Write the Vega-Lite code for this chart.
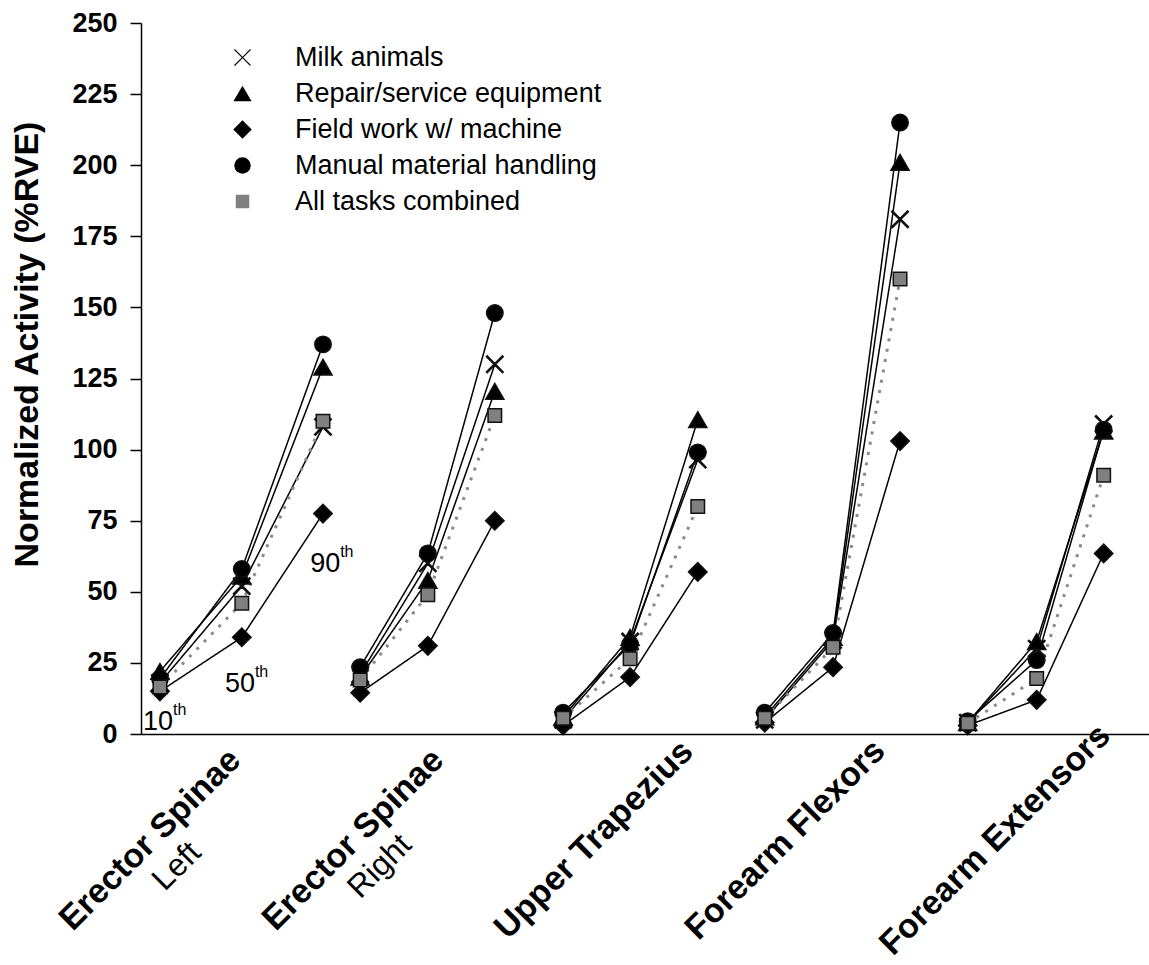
{
  "$schema": "https://vega.github.io/schema/vega-lite/v6.json",
  "width": 1008,
  "height": 711,
  "autosize": {"type": "none"},
  "padding": {"left": 141, "top": 23, "right": 0, "bottom": 231},
  "background": "white",
  "config": {"view": {"stroke": null}, "font": "Liberation Sans"},
  "datasets": {
    "points": [
      {"muscle": "ES-L", "task": "Milk animals", "pos": 0.28, "value": 18},
      {"muscle": "ES-L", "task": "Milk animals", "pos": 1.49, "value": 52},
      {"muscle": "ES-L", "task": "Milk animals", "pos": 2.69, "value": 108},
      {"muscle": "ES-R", "task": "Milk animals", "pos": 3.24, "value": 21},
      {"muscle": "ES-R", "task": "Milk animals", "pos": 4.24, "value": 60},
      {"muscle": "ES-R", "task": "Milk animals", "pos": 5.23, "value": 130},
      {"muscle": "UT", "task": "Milk animals", "pos": 6.24, "value": 5},
      {"muscle": "UT", "task": "Milk animals", "pos": 7.23, "value": 32.5},
      {"muscle": "UT", "task": "Milk animals", "pos": 8.23, "value": 96.5},
      {"muscle": "FF", "task": "Milk animals", "pos": 9.22, "value": 5},
      {"muscle": "FF", "task": "Milk animals", "pos": 10.23, "value": 33},
      {"muscle": "FF", "task": "Milk animals", "pos": 11.22, "value": 181},
      {"muscle": "FE", "task": "Milk animals", "pos": 12.22, "value": 4},
      {"muscle": "FE", "task": "Milk animals", "pos": 13.24, "value": 30},
      {"muscle": "FE", "task": "Milk animals", "pos": 14.23, "value": 109},
      {"muscle": "ES-L", "task": "Repair/service equipment", "pos": 0.28, "value": 22},
      {"muscle": "ES-L", "task": "Repair/service equipment", "pos": 1.49, "value": 55.5},
      {"muscle": "ES-L", "task": "Repair/service equipment", "pos": 2.69, "value": 129},
      {"muscle": "ES-R", "task": "Repair/service equipment", "pos": 3.24, "value": 20},
      {"muscle": "ES-R", "task": "Repair/service equipment", "pos": 4.24, "value": 54},
      {"muscle": "ES-R", "task": "Repair/service equipment", "pos": 5.23, "value": 120.5},
      {"muscle": "UT", "task": "Repair/service equipment", "pos": 6.24, "value": 6},
      {"muscle": "UT", "task": "Repair/service equipment", "pos": 7.23, "value": 34},
      {"muscle": "UT", "task": "Repair/service equipment", "pos": 8.23, "value": 110.5},
      {"muscle": "FF", "task": "Repair/service equipment", "pos": 9.22, "value": 6},
      {"muscle": "FF", "task": "Repair/service equipment", "pos": 10.23, "value": 34},
      {"muscle": "FF", "task": "Repair/service equipment", "pos": 11.22, "value": 201},
      {"muscle": "FE", "task": "Repair/service equipment", "pos": 12.22, "value": 4},
      {"muscle": "FE", "task": "Repair/service equipment", "pos": 13.24, "value": 32.5},
      {"muscle": "FE", "task": "Repair/service equipment", "pos": 14.23, "value": 106.5},
      {"muscle": "ES-L", "task": "Field work w/ machine", "pos": 0.28, "value": 15},
      {"muscle": "ES-L", "task": "Field work w/ machine", "pos": 1.49, "value": 34},
      {"muscle": "ES-L", "task": "Field work w/ machine", "pos": 2.69, "value": 77.5},
      {"muscle": "ES-R", "task": "Field work w/ machine", "pos": 3.24, "value": 14.5},
      {"muscle": "ES-R", "task": "Field work w/ machine", "pos": 4.24, "value": 31},
      {"muscle": "ES-R", "task": "Field work w/ machine", "pos": 5.23, "value": 75},
      {"muscle": "UT", "task": "Field work w/ machine", "pos": 6.24, "value": 3},
      {"muscle": "UT", "task": "Field work w/ machine", "pos": 7.23, "value": 20},
      {"muscle": "UT", "task": "Field work w/ machine", "pos": 8.23, "value": 57},
      {"muscle": "FF", "task": "Field work w/ machine", "pos": 9.22, "value": 4},
      {"muscle": "FF", "task": "Field work w/ machine", "pos": 10.23, "value": 23.5},
      {"muscle": "FF", "task": "Field work w/ machine", "pos": 11.22, "value": 103},
      {"muscle": "FE", "task": "Field work w/ machine", "pos": 12.22, "value": 3},
      {"muscle": "FE", "task": "Field work w/ machine", "pos": 13.24, "value": 12},
      {"muscle": "FE", "task": "Field work w/ machine", "pos": 14.23, "value": 63.5},
      {"muscle": "ES-L", "task": "Manual material handling", "pos": 0.28, "value": 19.5},
      {"muscle": "ES-L", "task": "Manual material handling", "pos": 1.49, "value": 58},
      {"muscle": "ES-L", "task": "Manual material handling", "pos": 2.69, "value": 137},
      {"muscle": "ES-R", "task": "Manual material handling", "pos": 3.24, "value": 23.5},
      {"muscle": "ES-R", "task": "Manual material handling", "pos": 4.24, "value": 63.5},
      {"muscle": "ES-R", "task": "Manual material handling", "pos": 5.23, "value": 148},
      {"muscle": "UT", "task": "Manual material handling", "pos": 6.24, "value": 7.5},
      {"muscle": "UT", "task": "Manual material handling", "pos": 7.23, "value": 31.5},
      {"muscle": "UT", "task": "Manual material handling", "pos": 8.23, "value": 99},
      {"muscle": "FF", "task": "Manual material handling", "pos": 9.22, "value": 7.5},
      {"muscle": "FF", "task": "Manual material handling", "pos": 10.23, "value": 35.5},
      {"muscle": "FF", "task": "Manual material handling", "pos": 11.22, "value": 215},
      {"muscle": "FE", "task": "Manual material handling", "pos": 12.22, "value": 4.5},
      {"muscle": "FE", "task": "Manual material handling", "pos": 13.24, "value": 26},
      {"muscle": "FE", "task": "Manual material handling", "pos": 14.23, "value": 107},
      {"muscle": "ES-L", "task": "All tasks combined", "pos": 0.28, "value": 16.5},
      {"muscle": "ES-L", "task": "All tasks combined", "pos": 1.49, "value": 46},
      {"muscle": "ES-L", "task": "All tasks combined", "pos": 2.69, "value": 110},
      {"muscle": "ES-R", "task": "All tasks combined", "pos": 3.24, "value": 19},
      {"muscle": "ES-R", "task": "All tasks combined", "pos": 4.24, "value": 49},
      {"muscle": "ES-R", "task": "All tasks combined", "pos": 5.23, "value": 112},
      {"muscle": "UT", "task": "All tasks combined", "pos": 6.24, "value": 5.5},
      {"muscle": "UT", "task": "All tasks combined", "pos": 7.23, "value": 26.5},
      {"muscle": "UT", "task": "All tasks combined", "pos": 8.23, "value": 80},
      {"muscle": "FF", "task": "All tasks combined", "pos": 9.22, "value": 5.5},
      {"muscle": "FF", "task": "All tasks combined", "pos": 10.23, "value": 30.5},
      {"muscle": "FF", "task": "All tasks combined", "pos": 11.22, "value": 160},
      {"muscle": "FE", "task": "All tasks combined", "pos": 12.22, "value": 3.8},
      {"muscle": "FE", "task": "All tasks combined", "pos": 13.24, "value": 19.5},
      {"muscle": "FE", "task": "All tasks combined", "pos": 14.23, "value": 91}
    ],
    "labels": [
      {"name": "Erector Spinae", "sub": "Left", "lpos": 0.14},
      {"name": "Erector Spinae", "sub": "Right", "lpos": 3.14},
      {"name": "Upper Trapezius", "sub": "", "lpos": 6.70},
      {"name": "Forearm Flexors", "sub": "", "lpos": 9.53},
      {"name": "Forearm Extensors", "sub": "", "lpos": 12.63}
    ],
    "ann": [
      {"num": "10", "pos": 0.03, "value": 1.4},
      {"num": "50", "pos": 1.24, "value": 14.8},
      {"num": "90", "pos": 2.5, "value": 57}
    ]
  },
  "layer": [
    {
      "data": {"name": "points"},
      "mark": {"type": "line", "clip": false},
      "encoding": {
        "x": {
          "field": "pos", "type": "quantitative",
          "scale": {"domain": [0, 14.9], "nice": false, "zero": false},
          "axis": {"domain": true, "domainColor": "black", "domainWidth": 1.5, "ticks": false, "labels": false, "grid": false, "title": null}
        },
        "y": {
          "field": "value", "type": "quantitative",
          "scale": {"domain": [0, 250], "nice": false},
          "axis": {
            "values": [0, 25, 50, 75, 100, 125, 150, 175, 200, 225, 250],
            "grid": false,
            "domainColor": "black", "domainWidth": 1.5,
            "tickColor": "black", "tickWidth": 1.5, "tickSize": 11,
            "labelFont": "Liberation Sans", "labelFontSize": 27, "labelFontWeight": "bold", "labelColor": "black", "labelPadding": 13,
            "title": "Normalized Activity (%RVE)",
            "titleFont": "Liberation Sans", "titleFontSize": 34, "titleFontWeight": "bold", "titleColor": "black",
            "titleX": -114, "titleY": 321, "titleAngle": 270, "titleAlign": "center", "titleBaseline": "middle"
          }
        },
        "detail": [{"field": "muscle"}, {"field": "task"}],
        "stroke": {"condition": {"test": "datum.task === 'All tasks combined'", "value": "#8a8a8a"}, "value": "#000000"},
        "strokeWidth": {"condition": {"test": "datum.task === 'All tasks combined'", "value": 3}, "value": 1.5},
        "strokeDash": {"condition": {"test": "datum.task === 'All tasks combined'", "value": [3, 7.5]}, "value": [1, 0]}
      }
    },
    {
      "data": {"name": "points"},
      "mark": {"type": "point", "filled": true, "stroke": "#111111", "strokeWidth": 1.5, "opacity": 1, "clip": false},
      "encoding": {
        "x": {"field": "pos", "type": "quantitative"},
        "y": {"field": "value", "type": "quantitative"},
        "shape": {
          "field": "task", "type": "nominal",
          "scale": {"domain": ["Milk animals", "Repair/service equipment", "Field work w/ machine", "Manual material handling", "All tasks combined"], "range": ["M0,-0.1L0.95,-1.05L1.05,-0.95L0.1,0L1.05,0.95L0.95,1.05L0,0.1L-0.95,1.05L-1.05,0.95L-0.1,0L-1.05,-0.95L-0.95,-1.05Z", "triangle-up", "diamond", "circle", "square"]},
          "legend": {"orient": "none", "legendX": 88, "legendY": 21, "title": null, "labelFont": "Liberation Sans", "labelFontSize": 27, "labelFontWeight": "normal", "labelColor": "black", "labelLimit": 500, "labelOffset": 39, "rowPadding": 8, "padding": 0, "symbolStrokeColor": "#111111", "symbolStrokeWidth": 1.5}
        },
        "fill": {
          "field": "task", "type": "nominal",
          "scale": {"domain": ["Milk animals", "Repair/service equipment", "Field work w/ machine", "Manual material handling", "All tasks combined"], "range": ["#000000", "#000000", "#000000", "#000000", "#808080"]},
          "legend": {"orient": "none", "legendX": 88, "legendY": 21, "title": null, "labelFont": "Liberation Sans", "labelFontSize": 27, "labelFontWeight": "normal", "labelColor": "black", "labelLimit": 500, "labelOffset": 39, "rowPadding": 8, "padding": 0, "symbolStrokeColor": "#111111", "symbolStrokeWidth": 1.5}
        },
        "size": {
          "field": "task", "type": "nominal",
          "scale": {"type": "ordinal", "domain": ["Milk animals", "Repair/service equipment", "Field work w/ machine", "Manual material handling", "All tasks combined"], "range": [256, 330, 342, 272, 182]},
          "legend": {"orient": "none", "legendX": 88, "legendY": 21, "title": null, "labelFont": "Liberation Sans", "labelFontSize": 27, "labelFontWeight": "normal", "labelColor": "black", "labelLimit": 500, "labelOffset": 39, "rowPadding": 8, "padding": 0, "symbolStrokeColor": "#111111", "symbolStrokeWidth": 1.5}
        }
      }
    },
    {
      "data": {"name": "labels"},
      "mark": {"type": "text", "angle": 315, "align": "center", "baseline": "middle", "font": "Liberation Sans", "fontSize": 34, "fontWeight": "bold", "color": "black", "yOffset": 106},
      "encoding": {
        "x": {"field": "lpos", "type": "quantitative"},
        "y": {"datum": 0, "type": "quantitative"},
        "text": {"field": "name"}
      }
    },
    {
      "data": {"name": "labels"},
      "transform": [{"filter": "datum.sub != ''"}],
      "mark": {"type": "text", "angle": 315, "align": "center", "baseline": "middle", "font": "Liberation Sans", "fontSize": 32, "fontWeight": "normal", "color": "black", "yOffset": 106, "dy": 37},
      "encoding": {
        "x": {"field": "lpos", "type": "quantitative"},
        "y": {"datum": 0, "type": "quantitative"},
        "text": {"field": "sub"}
      }
    },
    {
      "data": {"name": "ann"},
      "mark": {"type": "text", "align": "left", "baseline": "alphabetic", "font": "Liberation Sans", "fontSize": 27, "color": "black"},
      "encoding": {
        "x": {"field": "pos", "type": "quantitative"},
        "y": {"field": "value", "type": "quantitative"},
        "text": {"field": "num"}
      }
    },
    {
      "data": {"name": "ann"},
      "mark": {"type": "text", "align": "left", "baseline": "alphabetic", "font": "Liberation Sans", "fontSize": 16, "color": "black", "dx": 30, "dy": -15},
      "encoding": {
        "x": {"field": "pos", "type": "quantitative"},
        "y": {"field": "value", "type": "quantitative"},
        "text": {"value": "th"}
      }
    }
  ]
}
